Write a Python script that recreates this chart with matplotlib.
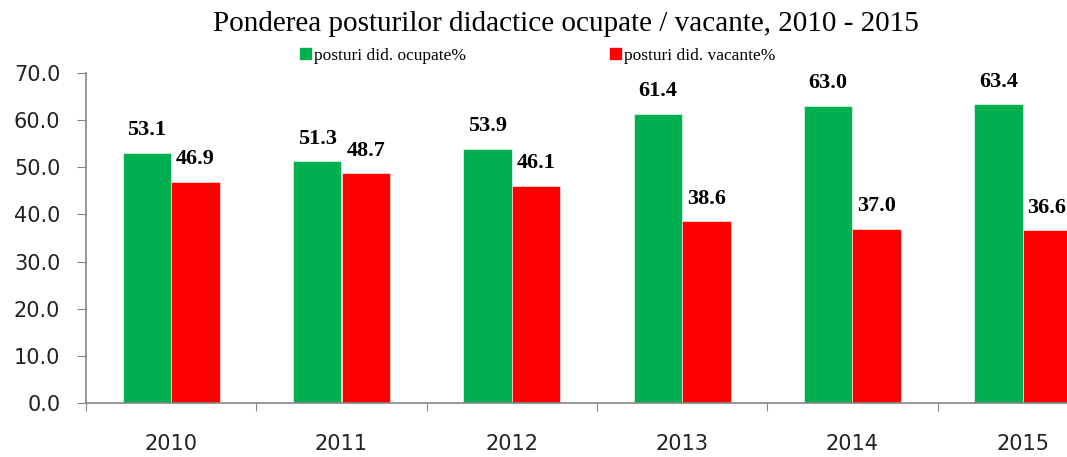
import matplotlib.pyplot as plt
import numpy as np
from matplotlib.patches import Patch

years = ["2010", "2011", "2012", "2013", "2014", "2015"]
ocupate = [53.1, 51.3, 53.9, 61.4, 63.0, 63.4]
vacante = [46.9, 48.7, 46.1, 38.6, 37.0, 36.6]

GREEN = "#00b050"
RED = "#ff0000"
SPINE = "#868686"

fig = plt.figure(figsize=(10.67, 4.57), dpi=100)
# axes deliberately run past the right edge, as in the original
ax = fig.add_axes([86 / 1067, 54 / 457, 1022 / 1067, 330 / 457])

x = np.arange(len(years))
w = 0.285
b1 = ax.bar(x - w / 2, ocupate, w, color=GREEN, edgecolor="white", linewidth=0.4)
b2 = ax.bar(x + w / 2, vacante, w, color=RED, edgecolor="white", linewidth=0.4)

for bars, vals in ((b1, ocupate), (b2, vacante)):
    for r, v in zip(bars, vals):
        ax.annotate(f"{v:.1f}", (r.get_x() + r.get_width() / 2, v),
                    xytext=(0, 9), textcoords="offset points",
                    ha="center", va="bottom", fontsize=16, fontweight="bold",
                    family="Liberation Serif", color="black")

ax.set_xlim(-0.5, len(years) - 0.5)
ax.set_ylim(0, 70)
ax.set_yticks(np.arange(0, 71, 10))
ax.set_yticklabels([f"{v:.1f}" for v in np.arange(0, 71, 10)],
                   fontsize=15, color="#222222")

ax.set_xticks(np.arange(-0.5, len(years), 1.0))
ax.set_xticklabels([])
ax.set_xticks(x, minor=True)
ax.set_xticklabels(years, minor=True, fontsize=15, color="#222222")
ax.tick_params(axis="x", which="major", length=6, color=SPINE, direction="out")
ax.tick_params(axis="x", which="minor", length=0, pad=22)
ax.tick_params(axis="y", length=6.5, color=SPINE, pad=12)

for s in ("top", "right"):
    ax.spines[s].set_visible(False)
for s in ("left", "bottom"):
    ax.spines[s].set_color(SPINE)
    ax.spines[s].set_linewidth(1.2)

fig.text(566 / 1067, 1 - 24 / 457,
         "Ponderea posturilor didactice ocupate / vacante, 2010 - 2015",
         ha="center", va="center", fontsize=21, family="Liberation Serif")

handles = [Patch(color=GREEN, label="posturi did. ocupate%"),
           Patch(color=RED, label="posturi did. vacante%")]
fig.legend(handles=handles, loc="center", bbox_to_anchor=(538 / 1067, 1 - 56 / 457),
           ncol=2, frameon=False, handlelength=0.6, handleheight=0.6,
           handletextpad=0.2, columnspacing=8.3,
           prop={"family": "Liberation Serif", "size": 12.5})

fig.savefig("out.png", dpi=100)
